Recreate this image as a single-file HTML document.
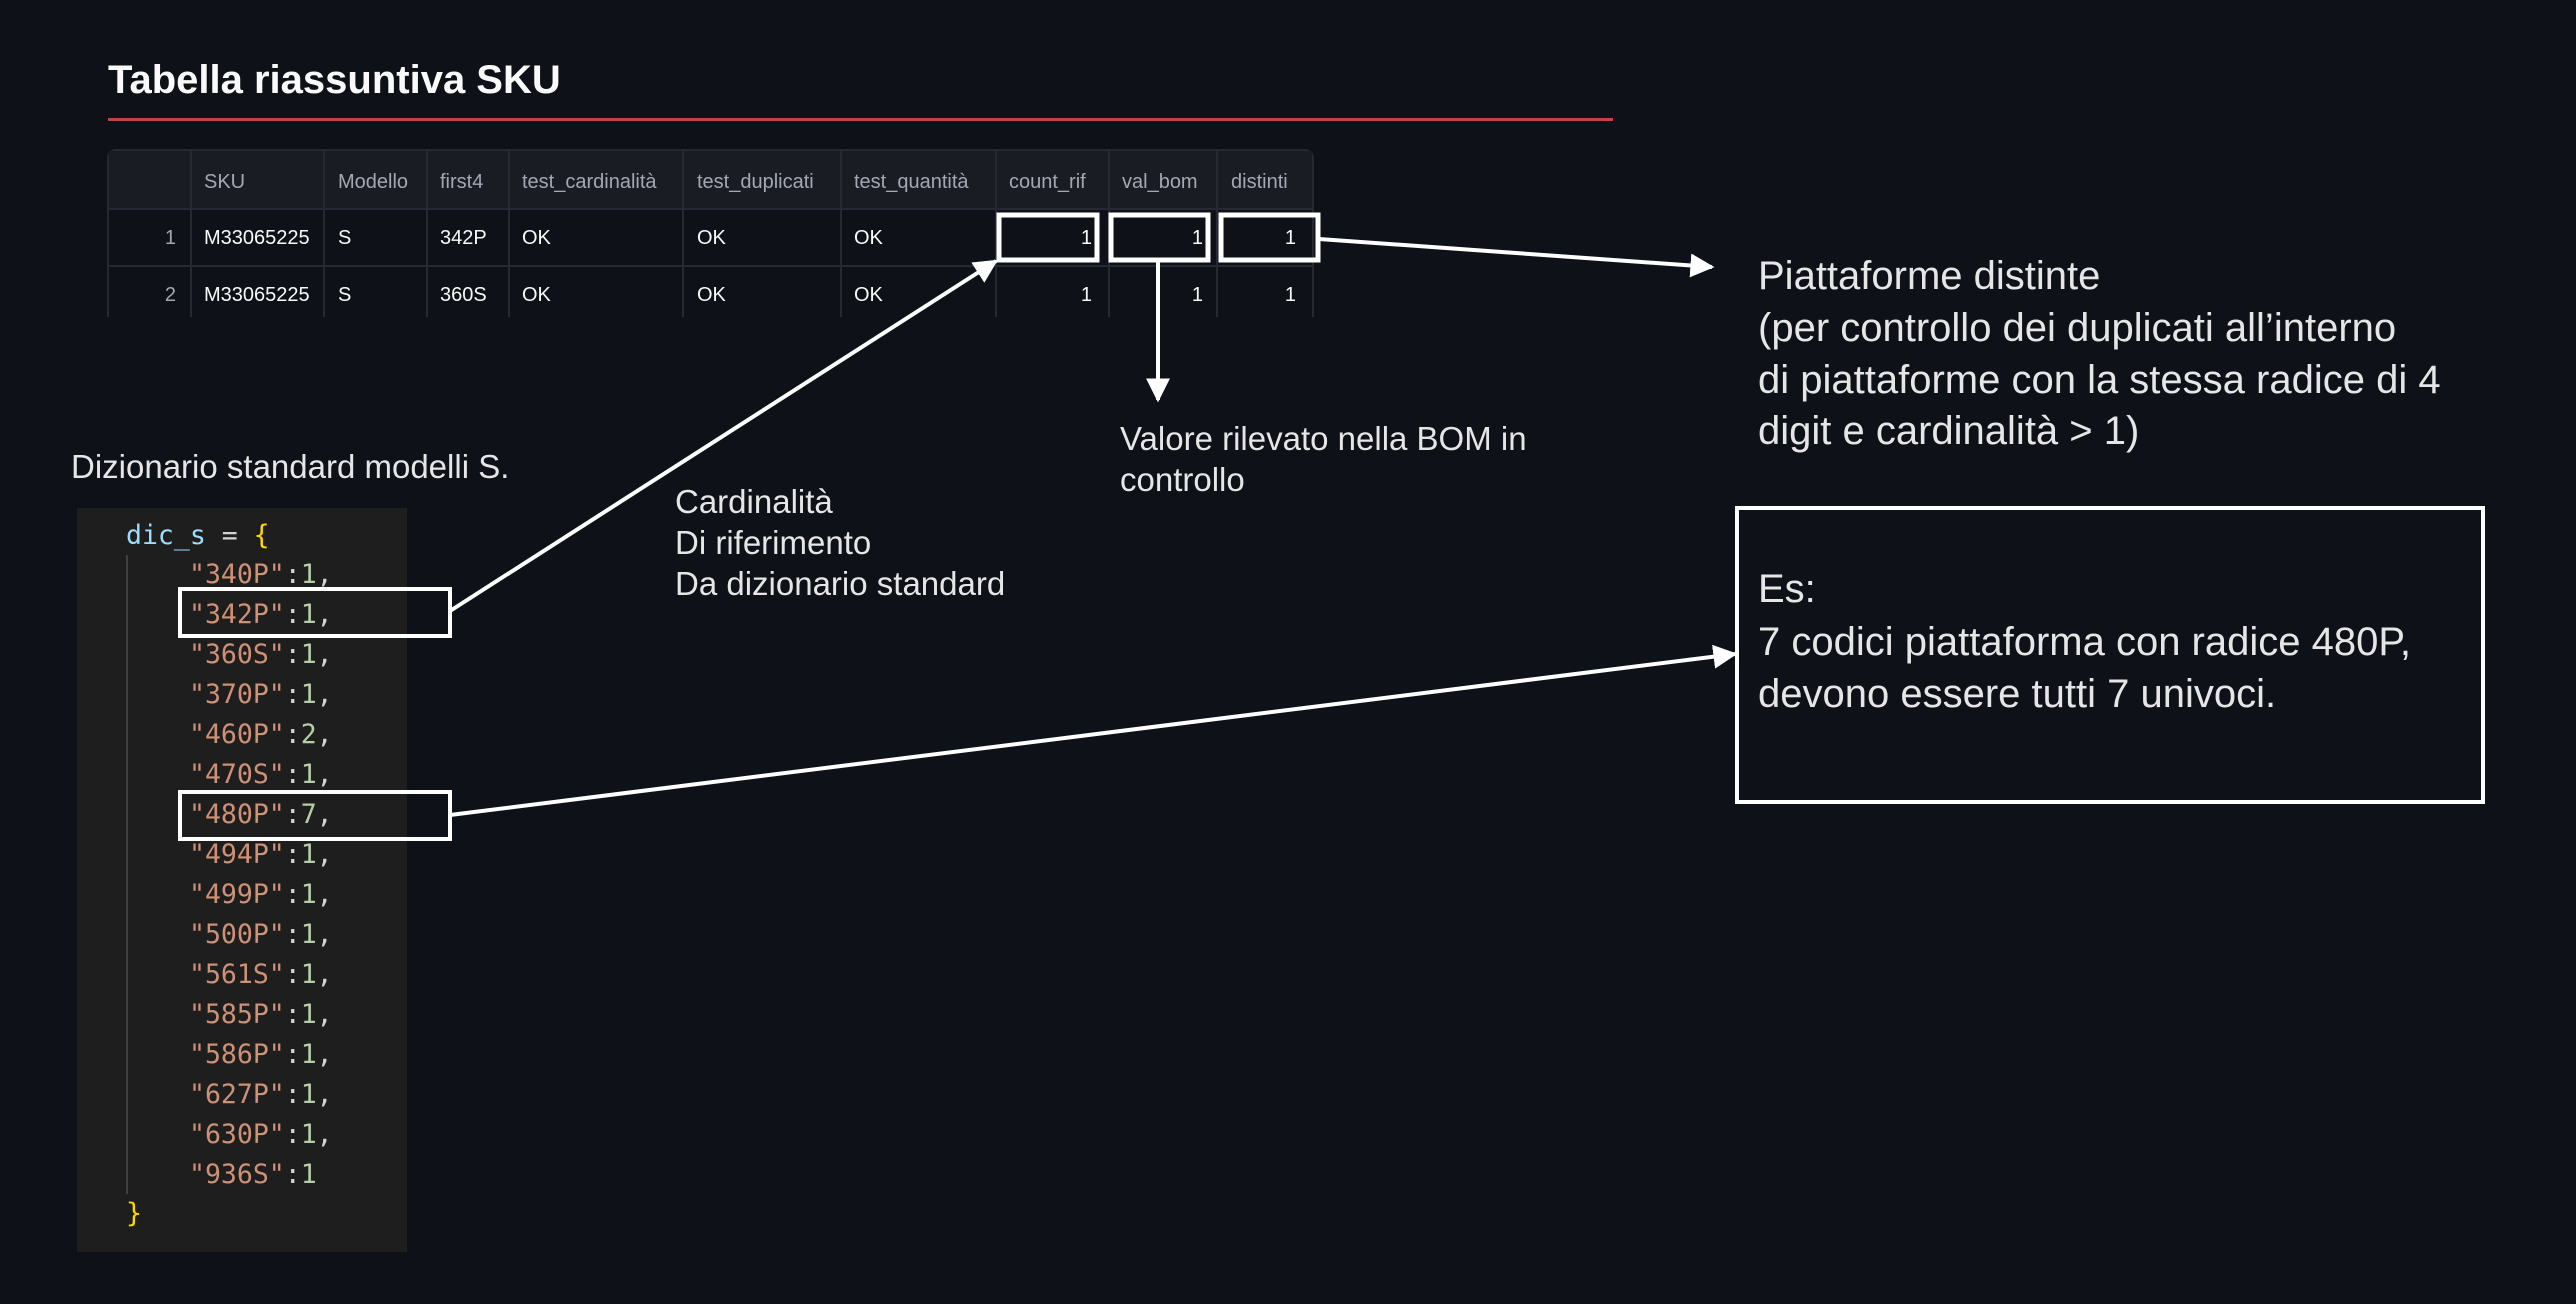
<!DOCTYPE html>
<html><head><meta charset="utf-8"><style>
html,body{margin:0;padding:0;background:#0e1117;}
svg{display:block}
</style></head><body>
<svg width="2576" height="1304" viewBox="0 0 2576 1304" xmlns="http://www.w3.org/2000/svg">
<defs>
<marker id="a" viewBox="0 0 10 10" refX="9" refY="5" markerWidth="6" markerHeight="6" orient="auto-start-reverse"><path d="M0,0 L10,5 L0,10 z" fill="#fff"/></marker>
</defs>
<rect width="2576" height="1304" fill="#0e1117"/>
<g font-family="Liberation Sans, sans-serif">
<text x="108" y="93" font-size="40" font-weight="bold" fill="#fafafa">Tabella riassuntiva SKU</text>
<rect x="108" y="118" width="1505" height="3" fill="#c0443f"/>

<!-- table -->
<rect x="108" y="150" width="1205" height="180" rx="8" fill="#0e1117" stroke="#262833" stroke-width="2"/>
<rect x="109" y="151" width="1203" height="58" fill="#1a1c24"/>
<g stroke="#262833" stroke-width="2">
<line x1="108" y1="209" x2="1313" y2="209"/>
<line x1="108" y1="266" x2="1313" y2="266"/>
<line x1="191" y1="150" x2="191" y2="317"/>
<line x1="324" y1="150" x2="324" y2="317"/>
<line x1="427" y1="150" x2="427" y2="317"/>
<line x1="509" y1="150" x2="509" y2="317"/>
<line x1="683" y1="150" x2="683" y2="317"/>
<line x1="841" y1="150" x2="841" y2="317"/>
<line x1="996" y1="150" x2="996" y2="317"/>
<line x1="1109" y1="150" x2="1109" y2="317"/>
<line x1="1217" y1="150" x2="1217" y2="317"/>
</g>
<rect x="100" y="317" width="1225" height="20" fill="#0e1117"/>
<g font-size="20" fill="#a3a8b4">
<text x="204" y="188">SKU</text><text x="338" y="188">Modello</text><text x="440" y="188">first4</text>
<text x="522" y="188">test_cardinalità</text><text x="697" y="188">test_duplicati</text><text x="854" y="188">test_quantità</text>
<text x="1009" y="188">count_rif</text><text x="1122" y="188">val_bom</text><text x="1231" y="188">distinti</text>
</g>
<g font-size="20" fill="#fafafa">
<text x="176" y="244" text-anchor="end" fill="#a3a8b4">1</text>
<text x="204" y="244">M33065225</text><text x="338" y="244">S</text><text x="440" y="244">342P</text>
<text x="522" y="244">OK</text><text x="697" y="244">OK</text><text x="854" y="244">OK</text>
<text x="1092" y="244" text-anchor="end">1</text><text x="1203" y="244" text-anchor="end">1</text><text x="1296" y="244" text-anchor="end">1</text>
<text x="176" y="301" text-anchor="end" fill="#a3a8b4">2</text>
<text x="204" y="301">M33065225</text><text x="338" y="301">S</text><text x="440" y="301">360S</text>
<text x="522" y="301">OK</text><text x="697" y="301">OK</text><text x="854" y="301">OK</text>
<text x="1092" y="301" text-anchor="end">1</text><text x="1203" y="301" text-anchor="end">1</text><text x="1296" y="301" text-anchor="end">1</text>
</g>
<g fill="none" stroke="#fff" stroke-width="5">
<rect x="999" y="215" width="98" height="45"/>
<rect x="1111" y="215" width="97" height="45"/>
<rect x="1221" y="215" width="97" height="45"/>
</g>

<!-- labels -->
<g fill="#e6e6e6" font-size="40">
<text x="1758" y="289">Piattaforme distinte</text>
<text x="1758" y="341">(per controllo dei duplicati all’interno</text>
<text x="1758" y="393">di piattaforme con la stessa radice di 4</text>
<text x="1758" y="444">digit e cardinalità &gt; 1)</text>
</g>
<g fill="#e6e6e6" font-size="33">
<text x="1120" y="450">Valore rilevato nella BOM in</text>
<text x="1120" y="491">controllo</text>
<text x="71" y="478">Dizionario standard modelli S.</text>
<text x="675" y="513">Cardinalità</text>
<text x="675" y="554">Di riferimento</text>
<text x="675" y="595">Da dizionario standard</text>
</g>
<rect x="1737" y="508" width="746" height="294" fill="none" stroke="#fff" stroke-width="4"/>
<g fill="#e6e6e6" font-size="40">
<text x="1758" y="602">Es:</text>
<text x="1758" y="655">7 codici piattaforma con radice 480P,</text>
<text x="1758" y="707">devono essere tutti 7 univoci.</text>
</g>
</g>

<!-- code panel -->
<rect x="77" y="508" width="330" height="744" fill="#1e1e1e"/>
<line x1="127" y1="555" x2="127" y2="1194" stroke="#404040" stroke-width="2"/>
<g font-family="DejaVu Sans Mono, Liberation Mono, monospace" font-size="26.5">
<text x="126" y="544"><tspan fill="#9cdcfe">dic_s</tspan><tspan fill="#d4d4d4"> = </tspan><tspan fill="#ffd700">{</tspan></text>
<text x="189" y="583"><tspan fill="#ce9178">"340P"</tspan><tspan fill="#d4d4d4">:</tspan><tspan fill="#b5cea8">1</tspan><tspan fill="#d4d4d4">,</tspan></text>
<text x="189" y="623"><tspan fill="#ce9178">"342P"</tspan><tspan fill="#d4d4d4">:</tspan><tspan fill="#b5cea8">1</tspan><tspan fill="#d4d4d4">,</tspan></text>
<text x="189" y="663"><tspan fill="#ce9178">"360S"</tspan><tspan fill="#d4d4d4">:</tspan><tspan fill="#b5cea8">1</tspan><tspan fill="#d4d4d4">,</tspan></text>
<text x="189" y="703"><tspan fill="#ce9178">"370P"</tspan><tspan fill="#d4d4d4">:</tspan><tspan fill="#b5cea8">1</tspan><tspan fill="#d4d4d4">,</tspan></text>
<text x="189" y="743"><tspan fill="#ce9178">"460P"</tspan><tspan fill="#d4d4d4">:</tspan><tspan fill="#b5cea8">2</tspan><tspan fill="#d4d4d4">,</tspan></text>
<text x="189" y="783"><tspan fill="#ce9178">"470S"</tspan><tspan fill="#d4d4d4">:</tspan><tspan fill="#b5cea8">1</tspan><tspan fill="#d4d4d4">,</tspan></text>
<text x="189" y="823"><tspan fill="#ce9178">"480P"</tspan><tspan fill="#d4d4d4">:</tspan><tspan fill="#b5cea8">7</tspan><tspan fill="#d4d4d4">,</tspan></text>
<text x="189" y="863"><tspan fill="#ce9178">"494P"</tspan><tspan fill="#d4d4d4">:</tspan><tspan fill="#b5cea8">1</tspan><tspan fill="#d4d4d4">,</tspan></text>
<text x="189" y="903"><tspan fill="#ce9178">"499P"</tspan><tspan fill="#d4d4d4">:</tspan><tspan fill="#b5cea8">1</tspan><tspan fill="#d4d4d4">,</tspan></text>
<text x="189" y="943"><tspan fill="#ce9178">"500P"</tspan><tspan fill="#d4d4d4">:</tspan><tspan fill="#b5cea8">1</tspan><tspan fill="#d4d4d4">,</tspan></text>
<text x="189" y="983"><tspan fill="#ce9178">"561S"</tspan><tspan fill="#d4d4d4">:</tspan><tspan fill="#b5cea8">1</tspan><tspan fill="#d4d4d4">,</tspan></text>
<text x="189" y="1023"><tspan fill="#ce9178">"585P"</tspan><tspan fill="#d4d4d4">:</tspan><tspan fill="#b5cea8">1</tspan><tspan fill="#d4d4d4">,</tspan></text>
<text x="189" y="1063"><tspan fill="#ce9178">"586P"</tspan><tspan fill="#d4d4d4">:</tspan><tspan fill="#b5cea8">1</tspan><tspan fill="#d4d4d4">,</tspan></text>
<text x="189" y="1103"><tspan fill="#ce9178">"627P"</tspan><tspan fill="#d4d4d4">:</tspan><tspan fill="#b5cea8">1</tspan><tspan fill="#d4d4d4">,</tspan></text>
<text x="189" y="1143"><tspan fill="#ce9178">"630P"</tspan><tspan fill="#d4d4d4">:</tspan><tspan fill="#b5cea8">1</tspan><tspan fill="#d4d4d4">,</tspan></text>
<text x="189" y="1183"><tspan fill="#ce9178">"936S"</tspan><tspan fill="#d4d4d4">:</tspan><tspan fill="#b5cea8">1</tspan></text>
<text x="126" y="1222" fill="#ffd700">}</text>
</g>
<g fill="none" stroke="#fff" stroke-width="4">
<rect x="180" y="589" width="270" height="47"/>
<rect x="180" y="792" width="270" height="47"/>
</g>

<!-- arrows -->
<g stroke="#fff" stroke-width="4" fill="none">
<line x1="1319" y1="239" x2="1712" y2="267" marker-end="url(#a)"/>
<line x1="1158" y1="260" x2="1158" y2="400" marker-end="url(#a)"/>
<line x1="450" y1="611" x2="996" y2="261" marker-end="url(#a)"/>
<line x1="450" y1="815" x2="1735" y2="654" marker-end="url(#a)"/>
</g>
</svg>
</body></html>
